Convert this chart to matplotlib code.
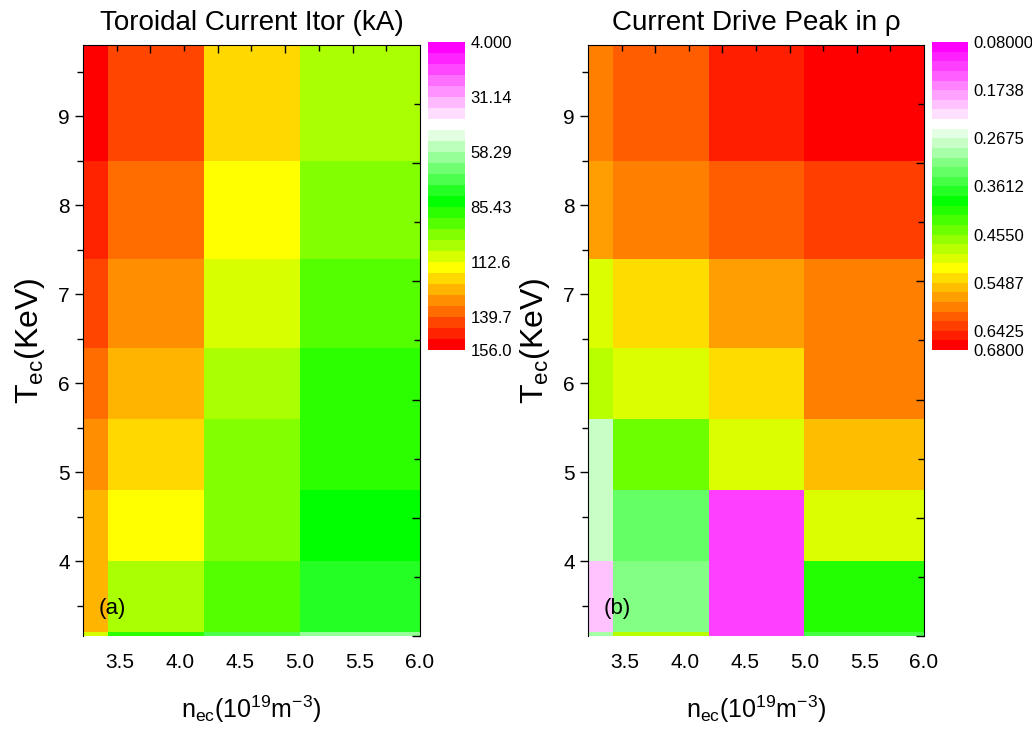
import numpy as np
import matplotlib
matplotlib.use("Agg")
import matplotlib.pyplot as plt
from matplotlib.colors import LinearSegmentedColormap, ListedColormap, Normalize
from matplotlib.ticker import FormatStrFormatter

plt.rcParams['font.family'] = 'Liberation Sans'
plt.rcParams['mathtext.fontset'] = 'custom'
plt.rcParams['mathtext.rm'] = 'Liberation Sans'
plt.rcParams['mathtext.it'] = 'Liberation Sans:italic'
plt.rcParams['mathtext.bf'] = 'Liberation Sans:bold'

# scan grid (cell edges): electron density n_ec and temperature T_ec
nec_edges = [3.0, 3.4, 4.2, 5.0, 6.0]
tec_edges = [2.4, 3.2, 4.0, 4.8, 5.6, 6.4, 7.4, 8.5, 9.8]

# rows = T_ec cells from bottom to top, columns = n_ec cells
itor = [
    [110, 88, 72, 61],
    [126, 104, 94, 77],
    [126, 115, 99, 83],
    [132, 121, 99, 88],
    [137, 126, 104, 88],
    [142, 132, 110, 94],
    [148, 137, 115, 99],
    [153, 142, 121, 104],
]
peak = [
    [0.296, 0.483, 0.127, 0.352],
    [0.202, 0.314, 0.127, 0.408],
    [0.278, 0.333, 0.127, 0.502],
    [0.278, 0.446, 0.502, 0.558],
    [0.483, 0.502, 0.539, 0.596],
    [0.502, 0.539, 0.577, 0.596],
    [0.577, 0.596, 0.614, 0.633],
    [0.596, 0.614, 0.652, 0.671],
]

itor_range = (4.0, 156.0)
peak_range = (0.08, 0.68)
itor_levels = 28
peak_levels = 32
itor_labels = ['4.000', '31.14', '58.29', '85.43', '112.6', '139.7', '156.0']
peak_labels = ['0.08000', '0.1738', '0.2675', '0.3612', '0.4550', '0.5487', '0.6425', '0.6800']

# Origin-like palette: magenta -> white gap -> green -> yellow -> red
base = LinearSegmentedColormap.from_list('origin', [
    (0.0, '#ff00ff'), (6 / 27, '#ffe0ff'), (7 / 27, '#ffffff'), (8 / 27, '#e0ffe0'),
    (14 / 27, '#00ff00'), (20 / 27, '#ffff00'), (1.0, '#ff0000')])


def level_cmap(n):
    return ListedColormap(base(np.linspace(0, 1, n)))


def draw_panel(fig, rect, crect, data, vrange, nlev, labels, title, tag):
    ax = fig.add_axes(rect)
    mesh = ax.pcolormesh(nec_edges, tec_edges, np.array(data), cmap=level_cmap(nlev),
                         norm=Normalize(*vrange))
    ax.set_xlim(3.19, 6.0)
    ax.set_ylim(3.16, 9.8)
    ax.set_xticks(np.arange(3.5, 6.01, 0.5))
    ax.xaxis.set_major_formatter(FormatStrFormatter('%.1f'))
    ax.set_yticks(np.arange(4, 10, 1))
    ax.set_yticks(np.arange(3.5, 9.6, 1), minor=True)
    ax.tick_params(axis='x', length=0, pad=12, labelsize=15)
    ax.tick_params(axis='y', which='major', direction='out', length=6, width=1, labelsize=15)
    ax.tick_params(axis='y', which='minor', direction='out', length=4, width=1)
    for s in ['bottom', 'top', 'right']:
        ax.spines[s].set_visible(False)
    ax.set_xlabel(r'n$_{\rm ec}$(10$^{19}$m$^{-3}$)', fontsize=18, labelpad=16)
    ax.set_ylabel(r'T$_{\rm ec}$(KeV)', fontsize=23, labelpad=8)
    ax.set_title(title, fontsize=20, pad=11)
    ax.text(0.045, 0.047, tag, transform=ax.transAxes, fontsize=16, va='center', ha='left')

    # top / right frame with its own inward ticks
    ov = fig.add_axes(rect, facecolor='none')
    ov.set_xlim(0, 10)
    ov.set_ylim(0, 10)
    ov.xaxis.tick_top()
    ov.yaxis.tick_right()
    ov.set_xticks([2, 4, 6, 8])
    ov.set_xticks([1, 3, 5, 7, 9], minor=True)
    ov.set_yticks([0, 2, 4, 6, 8])
    ov.set_yticks([1, 3, 5, 7, 9], minor=True)
    ov.tick_params(which='major', direction='in', length=6, width=1,
                   labeltop=False, labelright=False)
    ov.tick_params(which='minor', direction='in', length=4, width=1)
    for s in ['left', 'bottom']:
        ov.spines[s].set_visible(False)

    cax = fig.add_axes(crect)
    cb = fig.colorbar(mesh, cax=cax)
    cax.invert_yaxis()
    cb.set_ticks([float(s) for s in labels])
    cb.set_ticklabels(labels)
    cb.outline.set_visible(False)
    cax.tick_params(length=0, labelsize=12, pad=4)
    return ax


fig = plt.figure(figsize=(10.32, 7.31), dpi=100)
draw_panel(fig, [0.0804, 0.130, 0.3266, 0.8085], [0.4147, 0.5212, 0.0359, 0.4213],
           itor, itor_range, itor_levels, itor_labels, 'Toroidal Current Itor (kA)', '(a)')
draw_panel(fig, [0.5698, 0.130, 0.3256, 0.8085], [0.9031, 0.5212, 0.0349, 0.4213],
           peak, peak_range, peak_levels, peak_labels, 'Current Drive Peak in ρ', '(b)')

fig.savefig('out.png', dpi=100, facecolor='white')
